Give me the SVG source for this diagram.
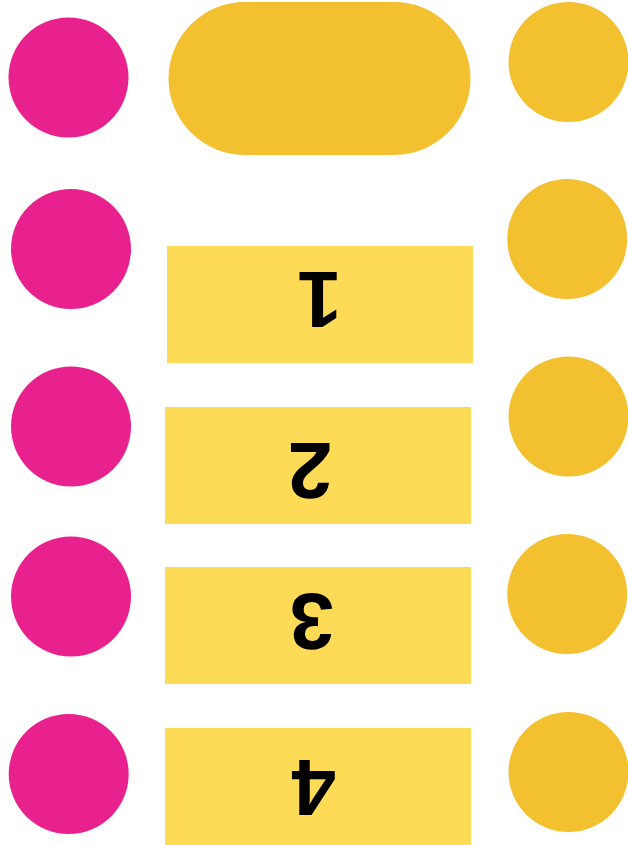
<svg xmlns="http://www.w3.org/2000/svg" width="628" height="845" viewBox="0 0 628 845">
<style>
.pink{fill:#E9218E}
.gold{fill:#F3C02F}
.box{fill:#FEDB56}
.num{font-family:"Liberation Sans",Arial,sans-serif;font-weight:bold;font-size:80px;fill:#000;text-anchor:middle}
</style>
<rect width="628" height="845" fill="#fff"/>
<g id="pink1"><circle class="pink" cx="68.5" cy="77.5" r="60"/></g>
<g id="pink2"><circle class="pink" cx="71" cy="249" r="60"/></g>
<g id="pink3"><circle class="pink" cx="71" cy="426.5" r="60"/></g>
<g id="pink4"><circle class="pink" cx="71" cy="596.5" r="60"/></g>
<g id="pink5"><circle class="pink" cx="68.7" cy="774" r="60"/></g>
<g id="gold1"><circle class="gold" cx="568.5" cy="62" r="60"/></g>
<g id="gold2"><circle class="gold" cx="567.2" cy="239" r="60"/></g>
<g id="gold3"><circle class="gold" cx="568.5" cy="416.5" r="60"/></g>
<g id="gold4"><circle class="gold" cx="567.2" cy="594" r="60"/></g>
<g id="gold5"><circle class="gold" cx="568.5" cy="772" r="60"/></g>
<g id="pill"><rect class="gold" x="168.5" y="2" width="302" height="153" rx="76.5"/></g>
<g id="box1"><rect class="box" x="167" y="246" width="306" height="117"/><text class="num" x="319.5" y="329" transform="rotate(180 319.5 300.5)">1</text></g>
<g id="box2"><rect class="box" x="165" y="407" width="306" height="117"/><text class="num" x="310" y="499.5" transform="rotate(180 310 471)">2</text></g>
<g id="box3"><rect class="box" x="165" y="567" width="306" height="117"/><text class="num" x="311.7" y="650.5" transform="rotate(180 311.7 622)">3</text></g>
<g id="box4"><rect class="box" x="165" y="728" width="306" height="117"/><text class="num" x="313.7" y="817.3" transform="rotate(180 313.7 788.8)">4</text></g>
<g id="connectors"></g>
</svg>
